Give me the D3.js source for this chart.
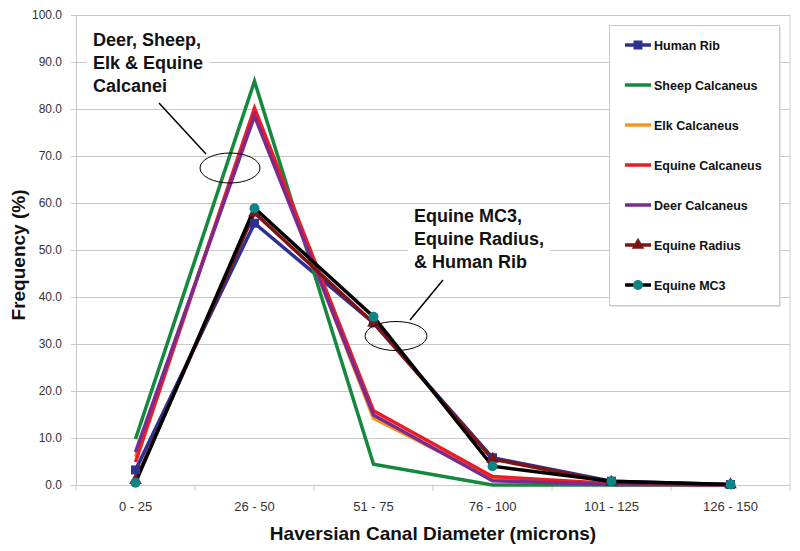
<!DOCTYPE html>
<html><head><meta charset="utf-8">
<script src="https://cdn.jsdelivr.net/npm/d3@7"></script>
<style>body{margin:0;background:#fff}svg{display:block;font-family:Arial,"Liberation Sans",sans-serif}</style>
</head><body><svg id="c" width="800" height="551"></svg>
<script>
const categories = ["0 - 25","26 - 50","51 - 75","76 - 100","101 - 125","126 - 150"];
const seriesNames = ["Human Rib","Sheep Calcaneus","Elk Calcaneus","Equine Calcaneus","Deer Calcaneus","Equine Radius","Equine MC3"];
const humanRib = [3.2, 55.7, 34.5, 5.8, 0.8, 0.1];
const sheepCalcaneus = [9.8, 85.9, 4.4, 0.0, 0.0, 0.0];
const elkCalcaneus = [6.0, 79.5, 14.2, 1.4, 0.2, 0.0];
const equineCalcaneus = [4.9, 80.2, 15.8, 1.8, 0.3, 0.0];
const deerCalcaneus = [7.0, 78.5, 14.9, 0.9, 0.1, 0.0];
const equineRadius = [1.0, 57.9, 34.5, 5.5, 0.6, 0.1];
const equineMC3 = [0.5, 58.9, 35.8, 4.0, 0.8, 0.1];
const yTicks = [0,10,20,30,40,50,60,70,80,90,100];

const series = [
  {name:seriesNames[0], values:humanRib, color:"#2E3192", marker:"square", mcolor:"#2E3192"},
  {name:seriesNames[1], values:sheepCalcaneus, color:"#14893E", marker:null},
  {name:seriesNames[2], values:elkCalcaneus, color:"#F7941D", marker:null},
  {name:seriesNames[3], values:equineCalcaneus, color:"#ED1C24", marker:null},
  {name:seriesNames[4], values:deerCalcaneus, color:"#7B2A8E", marker:null},
  {name:seriesNames[5], values:equineRadius, color:"#7F1416", marker:"triangle", mcolor:"#7F1416"},
  {name:seriesNames[6], values:equineMC3, color:"#000000", marker:"circle", mcolor:"#0E8484"}
];

const svg = d3.select("#c");
const L=76, R=790, T=15, B=485;
const x = d3.scaleBand().domain(categories).range([L,R]);
const y = d3.scaleLinear().domain([0,100]).range([B,T]);

svg.append("line").attr("x1",R).attr("x2",R).attr("y1",T).attr("y2",B).attr("stroke","#d0d0d0");
svg.append("g").selectAll("line").data(yTicks).join("line")
  .attr("x1",L).attr("x2",R).attr("y1",d=>y(d)+0.5).attr("y2",d=>y(d)+0.5)
  .attr("stroke","#c8c8c8").attr("stroke-width",1);

const ya = svg.append("g").attr("transform",`translate(${L},0)`)
  .call(d3.axisLeft(y).tickValues(yTicks).tickFormat(d3.format(".1f")).tickSize(5).tickPadding(9));
ya.select(".domain").attr("stroke","#c8c8c8");
ya.selectAll(".tick line").attr("stroke","#c8c8c8");
ya.selectAll("text").attr("font-size",12).attr("fill","#333").attr("font-family","Arial, 'Liberation Sans'");

const xa = svg.append("g").attr("transform",`translate(0,${B})`)
  .call(d3.axisBottom(x).tickSize(0).tickPadding(17));
xa.select(".domain").attr("stroke","#c8c8c8");
xa.selectAll("text").attr("font-size",13).attr("fill","#333").attr("font-family","Arial, 'Liberation Sans'");
const bounds = categories.map(c=>x(c)).concat([R]);
xa.selectAll(".bt").data(bounds).join("line").attr("class","bt")
  .attr("x1",d=>d).attr("x2",d=>d).attr("y1",0).attr("y2",6).attr("stroke","#c8c8c8");

const line = d3.line().x((d,i)=>x(categories[i])+x.bandwidth()/2).y(d=>y(d));
const g = svg.append("g");
series.forEach(s=>{
  g.append("path").datum(s.values).attr("d",line).attr("fill","none")
    .attr("stroke",s.color).attr("stroke-width",3.5).attr("stroke-linejoin","miter");
});
function drawMarker(sel, type, cx, cy, col){
  if(type==="square") sel.append("rect").attr("x",cx-4.5).attr("y",cy-4.5).attr("width",9).attr("height",9).attr("fill",col);
  else if(type==="triangle") sel.append("path").attr("d",d3.symbol(d3.symbolTriangle,70)()).attr("transform",`translate(${cx},${cy})`).attr("fill",col);
  else if(type==="circle") sel.append("circle").attr("cx",cx).attr("cy",cy).attr("r",5).attr("fill",col);
}
series.forEach(s=>{
  if(!s.marker) return;
  s.values.forEach((v,i)=>drawMarker(g,s.marker,x(categories[i])+x.bandwidth()/2,y(v),s.mcolor));
});

function annot(lines, tx, ty0, dy, lead, ell){
  const a = svg.append("g");
  const t = a.append("text").attr("font-size",18).attr("font-weight","bold").attr("fill","#111");
  lines.forEach((l,i)=>t.append("tspan").attr("x",tx).attr("y",ty0+i*dy).text(l));
  const bb = t.node().getBBox();
  a.insert("rect","text").attr("x",bb.x-6).attr("y",bb.y-2).attr("width",bb.width+12).attr("height",bb.height+4).attr("fill","#fff");
  a.append("line").attr("x1",lead[0]).attr("y1",lead[1]).attr("x2",lead[2]).attr("y2",lead[3]).attr("stroke","#000").attr("stroke-width",1.5);
  a.append("ellipse").attr("cx",ell[0]).attr("cy",ell[1]).attr("rx",ell[2]).attr("ry",ell[3]).attr("fill","none").attr("stroke","#000").attr("stroke-width",1);
}
annot(["Deer, Sheep,","Elk & Equine","Calcanei"], 93, 46, 23, [159,103,206,154], [230,168,30,15]);
annot(["Equine MC3,","Equine Radius,","& Human Rib"], 414, 222, 23, [443,280,410,320], [396,336,31,14.5]);

const lg = svg.append("g");
lg.append("rect").attr("x",611).attr("y",27).attr("width",170).attr("height",280).attr("fill","#e6e6e6");
lg.append("rect").attr("x",609.5).attr("y",25.5).attr("width",170).attr("height",280).attr("fill","#fff").attr("stroke","#c8c8c8");
series.forEach((s,i)=>{
  const ly = 45 + i*40;
  lg.append("line").attr("x1",625).attr("x2",651).attr("y1",ly).attr("y2",ly).attr("stroke",s.color).attr("stroke-width",3.5);
  if(s.marker) drawMarker(lg,s.marker,638,ly,s.mcolor);
  lg.append("text").attr("x",654).attr("y",ly+4.5).attr("font-size",12.5).attr("font-weight","bold").attr("fill","#111").text(s.name);
});

svg.append("text").attr("x",433).attr("y",540).attr("text-anchor","middle").attr("font-size",19).attr("font-weight","bold").attr("fill","#111").text("Haversian Canal Diameter (microns)");
svg.append("text").attr("transform","translate(25,255) rotate(-90)").attr("text-anchor","middle").attr("font-size",19).attr("font-weight","bold").attr("fill","#111").text("Frequency (%)");
</script></body></html>
